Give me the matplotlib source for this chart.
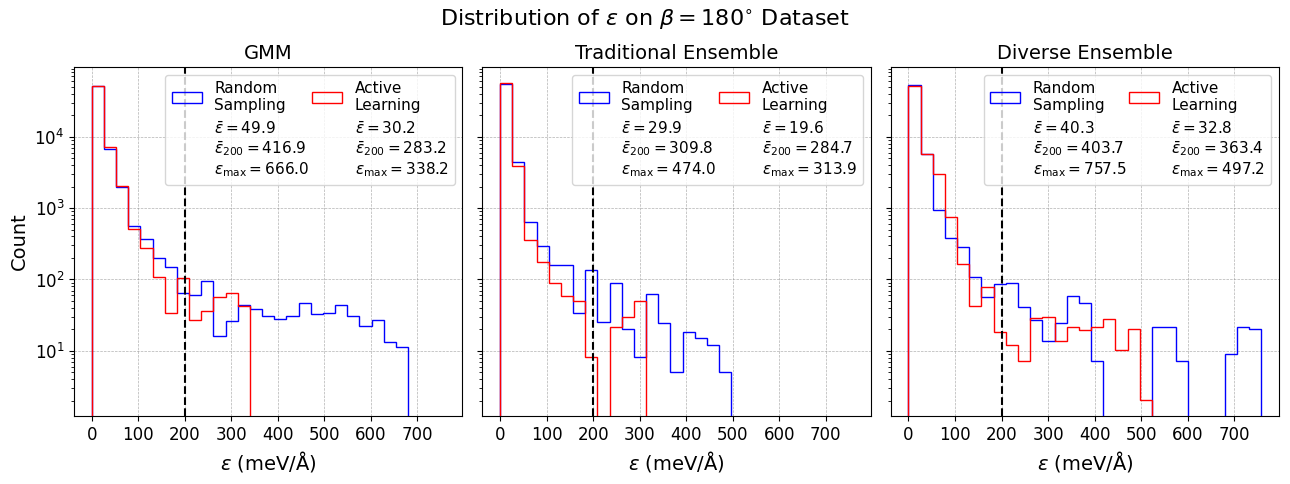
import numpy as np
import matplotlib
matplotlib.use("Agg")
import matplotlib.pyplot as plt
from matplotlib.lines import Line2D

# histogram counts per bin (bin width ~26.15 meV/A, starting at 0)
bin_width = 26.15

titles = ["GMM", "Traditional Ensemble", "Diverse Ensemble"]

gmm_random = [52100, 6740, 1977, 566, 368, 200, 149, 64.5, 60.4, 95, 15.9, 25.8, 44.2,
              38.5, 30.3, 27.8, 30.6, 46.7, 32.7, 33.8, 43.7, 31, 22.6, 27.2, 13.2, 11.3]
gmm_active = [52000, 7190, 2017, 509, 272, 110, 33.8, 105, 27.2, 36.7, 56.6, 64.5, 41.8]

trad_random = [55600, 4430, 638, 294, 159, 159, 33.8, 135.5, 25.3, 89, 20.4, 8.3, 62.4,
               24.5, 5.0, 18.3, 15.2, 11.9, 5.0]
trad_active = [56800, 3930, 357, 173, 89, 58.5, 50.3, 8.3, 0, 21.5, 29.7, 50.3]

div_random = [53800, 5740, 929, 376, 281, 110, 56, 86, 89, 40.5, 27.2, 13.9, 24.5, 57.8,
              46.7, 7.1, 0, 0, 0, 0, 21.9, 21.5, 7.1, 0, 0, 0, 9.0, 21.5, 20.1]
div_active = [51500, 5740, 2970, 750, 164, 41.8, 77.3, 18.1, 12, 7.1, 28.8, 29.7, 13.9,
              21.9, 19.3, 21.5, 27.8, 10.1, 20.1, 2.06]

random_counts = [gmm_random, trad_random, div_random]
active_counts = [gmm_active, trad_active, div_active]

# summary stats shown in legends: (mean, mean above 200, max)
random_stats = [(49.9, 416.9, 666.0), (29.9, 309.8, 474.0), (40.3, 403.7, 757.5)]
active_stats = [(30.2, 283.2, 338.2), (19.6, 284.7, 313.9), (32.8, 363.4, 497.2)]


def stat_label(st):
    return (r"$\bar{\epsilon}=%.1f$" % st[0] + "\n"
            + r"$\bar{\epsilon}_{200}=%.1f$" % st[1] + "\n"
            + r"$\epsilon_{\max}=%.1f$" % st[2])


fig, axes = plt.subplots(1, 3, figsize=(12.9, 4.84), dpi=100, sharex=True, sharey=True)
fig.subplots_adjust(left=0.0574, right=0.9915, bottom=0.1405, top=0.8616, wspace=0.052)

for i, ax in enumerate(axes):
    rc = np.array(random_counts[i], dtype=float)
    ac = np.array(active_counts[i], dtype=float)
    re = bin_width * np.arange(len(rc) + 1)
    ae = bin_width * np.arange(len(ac) + 1)
    _, _, p_r = ax.hist(re[:-1], bins=re, weights=rc, histtype="step", color="blue",
                        lw=1.0, log=True)
    _, _, p_a = ax.hist(ae[:-1], bins=ae, weights=ac, histtype="step", color="red",
                        lw=1.0, log=True)
    ax.axvline(200, color="k", linestyle="--", lw=1.5)

    # legend: coloured entry per method, stats as a handle-less entry below it
    blank = Line2D([], [], linestyle="none")
    handles = [p_r[0], blank, p_a[0], blank]
    labels = ["Random\nSampling", stat_label(random_stats[i]),
              "Active\nLearning", stat_label(active_stats[i])]
    leg = ax.legend(handles, labels, loc="upper right", ncol=2, fontsize=11,
                    columnspacing=0.15)
    for t in leg.get_texts()[1::2]:
        t.set_linespacing(1.17)

    ax.set_title(titles[i], fontsize=14)
    ax.set_xlabel(r"$\epsilon\ (\mathrm{meV/\AA})$", fontsize=14)
    ax.grid(True, which="major", linestyle="--", linewidth=0.5, color="gray", alpha=0.6)
    ax.tick_params(labelsize=12)

axes[0].set_ylabel("Count", fontsize=14)
axes[0].set_xticks(np.arange(0, 701, 100))
axes[0].set_ylim(1.22, 9.5e4)

fig.suptitle(r"Distribution of $\epsilon$ on $\beta=180^{\circ}$ Dataset", fontsize=16, y=0.985)

fig.savefig("out.png", dpi=100)
